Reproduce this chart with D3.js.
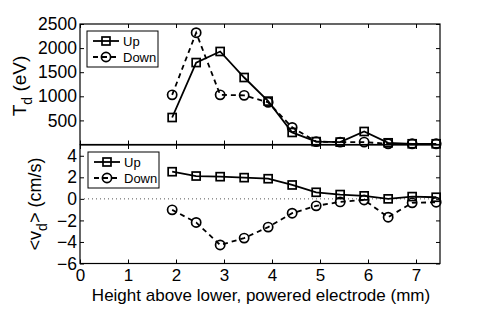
<!DOCTYPE html>
<html><head><meta charset="utf-8">
<script src="https://cdn.jsdelivr.net/npm/d3@7"></script>
<style>body{margin:0;background:#fff}svg{display:block;font-family:"Liberation Sans",Arial,sans-serif}</style>
</head><body><svg id="c" width="485" height="313"></svg>
<script>
const heights = [1.92, 2.42, 2.92, 3.42, 3.92, 4.42, 4.92, 5.42, 5.92, 6.42, 6.92, 7.42];
const tdUp   = [560, 1700, 1930, 1390, 900, 250, 60, 50, 270, 35, 15, 15];
const tdDown = [1030, 2320, 1030, 1020, 875, 355, 60, 50, 50, 15, 15, 15];
const vdUp   = [2.52, 2.12, 2.06, 1.97, 1.87, 1.29, 0.61, 0.40, 0.28, 0.0, 0.21, 0.15];
const vdDown = [-1.02, -2.19, -4.28, -3.64, -2.62, -1.33, -0.65, -0.28, -0.10, -1.70, -0.37, -0.31];
const xTicks = [0,1,2,3,4,5,6,7];
const tdTicks = [500,1000,1500,2000,2500];
const vdTicks = [-6,-4,-2,0,2,4];
const seriesNames = ["Up","Down"];

const svg = d3.select("#c");
const L = 80, R = 440;
const x = d3.scaleLinear().domain([0,7.5]).range([L,R]);
const yT = d3.scaleLinear().domain([0,2500]).range([144.5,24]);
const yB = d3.scaleLinear().domain([-6,5]).range([263.5,145]);
const fmt = d => d < 0 ? "\u2212" + Math.abs(d) : String(d);

function panel(y, yTicks, showX) {
  const g = svg.append("g");
  const [y0,y1] = y.range();
  g.append("rect").attr("x",L).attr("y",y1).attr("width",R-L).attr("height",y0-y1)
    .attr("fill","none").attr("stroke","#000").attr("stroke-width",1.2);
  const la = g.append("g").attr("transform",`translate(${L},0)`)
    .call(d3.axisLeft(y).tickValues(yTicks).tickSize(-4).tickPadding(3).tickFormat(fmt));
  la.select(".domain").remove();
  la.selectAll("text").attr("font-size",17.5).attr("font-family","Liberation Sans, Arial, sans-serif").attr("fill","#000");
  const ra = g.append("g").attr("transform",`translate(${R},0)`)
    .call(d3.axisRight(y).tickValues(yTicks).tickSize(-4).tickFormat(""));
  ra.select(".domain").remove();
  const ta = g.append("g").attr("transform",`translate(0,${y1})`)
    .call(d3.axisTop(x).tickValues(xTicks).tickSize(-4).tickFormat(""));
  ta.select(".domain").remove();
  const ba = g.append("g").attr("transform",`translate(0,${y0})`)
    .call(d3.axisBottom(x).tickValues(xTicks).tickSize(-4).tickPadding(5.5).tickFormat(showX ? fmt : ""));
  ba.select(".domain").remove();
  ba.selectAll("text").attr("font-size",17).attr("font-family","Liberation Sans, Arial, sans-serif").attr("fill","#000");
  g.selectAll(".tick line").attr("stroke","#000");
  return g;
}

function drawSeries(g, y, vals, kind) {
  const pts = heights.map((h,i)=>[x(h), y(vals[i])]);
  g.append("path").attr("d", d3.line()(pts)).attr("fill","none").attr("stroke","#000")
    .attr("stroke-width",1.8).attr("stroke-dasharray", kind==="down" ? "5,4" : null);
  drawMarkers(g, pts, kind);
}
function drawMarkers(g, pts, kind) {
  if (kind==="up") {
    g.selectAll(null).data(pts).enter().append("rect")
      .attr("x",d=>d[0]-4).attr("y",d=>d[1]-4).attr("width",8).attr("height",8)
      .attr("fill","none").attr("stroke","#000").attr("stroke-width",1.7);
  } else {
    g.selectAll(null).data(pts).enter().append("circle")
      .attr("cx",d=>d[0]).attr("cy",d=>d[1]).attr("r",4.6)
      .attr("fill","none").attr("stroke","#000").attr("stroke-width",1.7);
  }
}
function legend(g, bx, by) {
  g.append("rect").attr("x",bx).attr("y",by).attr("width",71).attr("height",36)
    .attr("fill","#fff").attr("stroke","#000").attr("stroke-width",1);
  seriesNames.forEach((n,i)=>{
    const yy = by + 10 + i*16;
    const kind = i===0 ? "up" : "down";
    g.append("line").attr("x1",bx+6).attr("x2",bx+32).attr("y1",yy).attr("y2",yy)
      .attr("stroke","#000").attr("stroke-width",1.8).attr("stroke-dasharray", kind==="down" ? "5,4" : null);
    drawMarkers(g, [[bx+19, yy]], kind);
    g.append("text").attr("x",bx+36).attr("y",yy+4.5).attr("font-size",13).text(n);
  });
}

const gT = panel(yT, tdTicks, false);
drawSeries(gT, yT, tdDown, "down");
drawSeries(gT, yT, tdUp, "up");
legend(gT, 87, 31);

const gB = panel(yB, vdTicks, true);
gB.append("line").attr("x1",L).attr("x2",R).attr("y1",yB(0)).attr("y2",yB(0))
  .attr("stroke","#555").attr("stroke-width",1).attr("stroke-dasharray","1,3");
drawSeries(gB, yB, vdUp, "up");
drawSeries(gB, yB, vdDown, "down");
legend(gB, 88, 152);

svg.append("text").attr("x", (L+R)/2 + 1).attr("y", 300.5).attr("text-anchor","middle")
  .attr("font-size",17).text("Height above lower, powered electrode (mm)");
const t1 = svg.append("text").attr("transform","translate(26,86) rotate(-90)").attr("text-anchor","middle").attr("font-size",19);
t1.append("tspan").text("T");
t1.append("tspan").attr("dy",6).attr("font-size",14).text("d");
t1.append("tspan").attr("dy",-6).text(" (eV)");
const t2 = svg.append("text").attr("transform","translate(41,204) rotate(-90)").attr("text-anchor","middle").attr("font-size",18);
t2.append("tspan").text("<v");
t2.append("tspan").attr("dy",6).attr("font-size",14).text("d");
t2.append("tspan").attr("dy",-6).text("> (cm/s)");
</script></body></html>
